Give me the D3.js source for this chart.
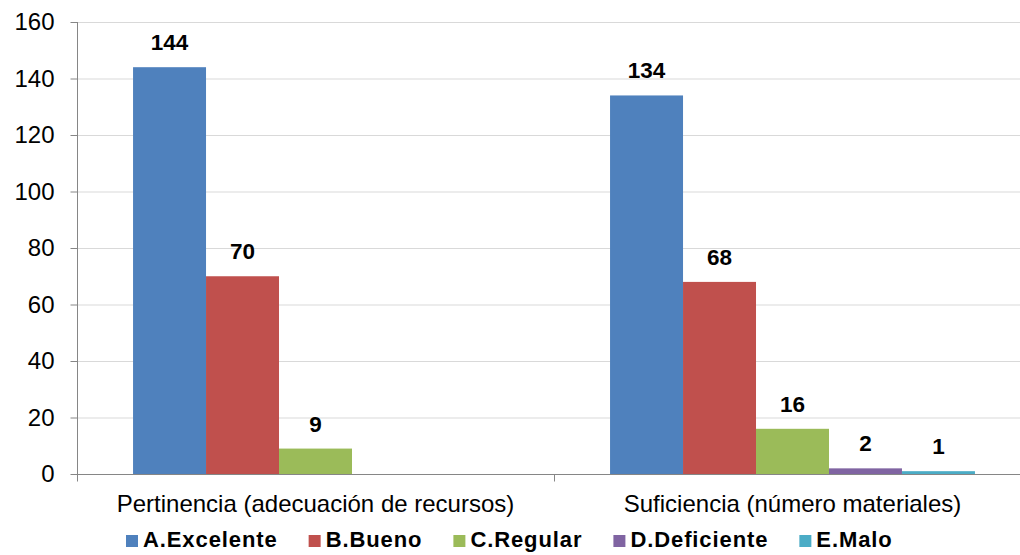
<!DOCTYPE html>
<html>
<head>
<meta charset="utf-8">
<script src="https://cdn.jsdelivr.net/npm/d3@7"></script>
<style>
  html, body { margin: 0; padding: 0; background: #fff; }
  svg { display: block; font-family: "Liberation Sans", Arial, sans-serif; }
</style>
</head>
<body>
<svg id="chart" width="1020" height="555"></svg>
<script>
const categories = ["Pertinencia (adecuación de recursos)", "Suficiencia (número materiales)"];
const seriesNames = ["A.Excelente", "B.Bueno", "C.Regular", "D.Deficiente", "E.Malo"];
const seriesColors = ["#4F81BD", "#C0504D", "#9BBB59", "#8064A2", "#4BACC6"];
const valuesA = [144, 134];
const valuesB = [70, 68];
const valuesC = [9, 16];
const valuesD = [null, 2];
const valuesE = [null, 1];
const yTicks = [0, 20, 40, 60, 80, 100, 120, 140, 160];

const seriesValues = [valuesA, valuesB, valuesC, valuesD, valuesE];

const svg = d3.select("#chart");
const W = 1020, H = 555;
const pLeft = 77, pRight = 1031, pTop = 22, pBottom = 474;

const y = d3.scaleLinear().domain([0, 160]).range([pBottom, pTop]);
const x0 = d3.scaleBand().domain(categories).range([pLeft, pRight]).padding(0);
const bw = x0.bandwidth();
const x1 = d3.scaleBand().domain(seriesNames).range([bw * 0.1175, bw * (1 - 0.1175)]).padding(0);

svg.append("defs").append("clipPath").attr("id", "clip")
  .append("rect").attr("x", 0).attr("y", 0).attr("width", W).attr("height", H);

const g = svg.append("g").attr("clip-path", "url(#clip)");

// gridlines
g.append("g").selectAll("line").data(yTicks.filter(d => d > 0)).join("line")
  .attr("x1", pLeft).attr("x2", pRight)
  .attr("y1", d => y(d) + 0.5).attr("y2", d => y(d) + 0.5)
  .attr("stroke", "#d9d9d9").attr("stroke-width", 1);

// bars
const data = [];
categories.forEach((c, ci) => {
  seriesNames.forEach((s, si) => {
    const v = seriesValues[si][ci];
    if (v != null) data.push({ c, s, v, color: seriesColors[si] });
  });
});

g.append("g").selectAll("rect").data(data).join("rect")
  .attr("x", d => x0(d.c) + x1(d.s))
  .attr("y", d => y(d.v))
  .attr("width", x1.bandwidth())
  .attr("height", d => pBottom - y(d.v))
  .attr("fill", d => d.color);

// data labels
g.append("g").selectAll("text").data(data).join("text")
  .attr("x", d => x0(d.c) + x1(d.s) + x1.bandwidth() / 2)
  .attr("y", d => y(d.v) - 17)
  .attr("text-anchor", "middle")
  .attr("font-size", "22.5px").attr("font-weight", "bold").attr("fill", "#000")
  .text(d => d.v);

// y axis
const yAxis = d3.axisLeft(y).tickValues(yTicks).tickSize(7).tickPadding(16);
const yg = g.append("g").attr("transform", `translate(${pLeft + 0.5},0)`).call(yAxis);
yg.select(".domain").attr("stroke", "#868686").attr("d", `M0,${pBottom + 7}V${pTop}`);
yg.selectAll(".tick line").attr("stroke", "#868686");
yg.selectAll(".tick text").attr("font-size", "24px").attr("fill", "#000")
  .attr("font-family", "Liberation Sans, Arial, sans-serif");

// x axis
const xg = g.append("g").attr("transform", `translate(0,${pBottom + 0.5})`);
xg.append("line").attr("x1", pLeft).attr("x2", pRight).attr("stroke", "#868686");
const xTickPos = [pLeft, pLeft + bw, pRight];
xg.selectAll("line.t").data(xTickPos).join("line").attr("class", "t")
  .attr("x1", d => d + 0.5).attr("x2", d => d + 0.5).attr("y1", 0).attr("y2", 7)
  .attr("stroke", "#868686");
xg.selectAll("text").data(categories).join("text")
  .attr("x", d => x0(d) + bw / 2)
  .attr("y", 37.5)
  .attr("text-anchor", "middle")
  .attr("font-size", "24px").attr("fill", "#000")
  .text(d => d);

// legend
const lg = svg.append("g").attr("transform", "translate(0,547)");
let lx = 126;
seriesNames.forEach((s, i) => {
  lg.append("rect").attr("x", lx).attr("y", -12).attr("width", 12).attr("height", 12)
    .attr("fill", seriesColors[i]);
  const t = lg.append("text").attr("x", lx + 17).attr("y", 0)
    .attr("font-size", "22px").attr("font-weight", "bold").attr("letter-spacing", "0.9px")
    .attr("fill", "#000").text(s);
  lx = lx + 17 + t.node().getComputedTextLength() + 31;
});
</script>
</body>
</html>
